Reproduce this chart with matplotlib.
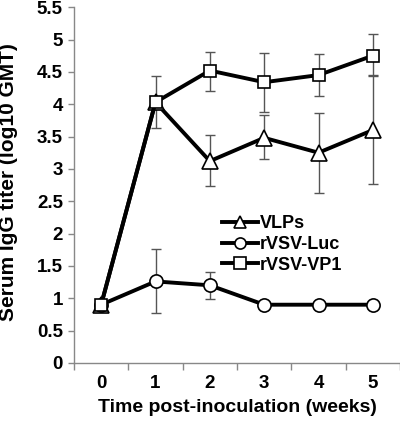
import matplotlib
matplotlib.use("Agg")
import matplotlib.pyplot as plt
import numpy as np

plt.rcParams['font.family'] = ['Liberation Sans', 'DejaVu Sans']
plt.rcParams['font.weight'] = 'bold'

weeks = [0, 1, 2, 3, 4, 5]
vlps = [0.9, 4.03, 3.12, 3.48, 3.25, 3.60]
vlps_lo = [0.9, 3.63, 2.73, 3.15, 2.63, 2.76]
vlps_hi = [0.9, 4.43, 3.53, 3.84, 3.87, 4.45]
luc = [0.9, 1.26, 1.20, 0.9, 0.9, 0.9]
luc_lo = [0.9, 0.77, 0.99, 0.9, 0.9, 0.9]
luc_hi = [0.9, 1.76, 1.41, 0.9, 0.9, 0.9]
vp1 = [0.9, 4.03, 4.52, 4.34, 4.45, 4.75]
vp1_lo = [0.9, 4.03, 4.21, 3.88, 4.13, 4.43]
vp1_hi = [0.9, 4.03, 4.81, 4.79, 4.78, 5.08]

fig = plt.figure(figsize=(4.0, 4.22), dpi=100)
ax = fig.add_axes([0.185, 0.14, 0.815, 0.843])

series = [
    ("VLPs", vlps, vlps_lo, vlps_hi, '^', 11),
    ("rVSV-Luc", luc, luc_lo, luc_hi, 'o', 9.5),
    ("rVSV-VP1", vp1, vp1_lo, vp1_hi, 's', 9),
]
x = np.array(weeks)
for name, v, lo, hi, m, ms in series:
    v = np.array(v); lo = np.array(lo); hi = np.array(hi)
    yerr = np.vstack([v - lo, hi - v])
    mask = (yerr.sum(axis=0) > 0)
    ax.errorbar(x[mask], v[mask], yerr=yerr[:, mask], fmt='none', ecolor='#555555',
                elinewidth=1.0, capsize=3.5, capthick=1.0, zorder=2)
for name, v, lo, hi, m, ms in series:
    ax.plot(x, v, color='black', lw=2.8, marker=m, ms=ms, mfc='white', mec='black',
            mew=1.2, label=name, zorder=3)

ax.set_xlim(-0.5, 5.5)
ax.set_ylim(0, 5.5)
ax.set_yticks(np.arange(0, 5.51, 0.5))
ax.set_yticklabels(['0', '0.5', '1', '1.5', '2', '2.5', '3', '3.5', '4', '4.5', '5', '5.5'])
ax.set_xticks(weeks)
ax.set_xticks(np.arange(-0.5, 5.6, 1), minor=True)
ax.tick_params(axis='x', which='major', length=0, pad=9, labelsize=13.5)
ax.tick_params(axis='x', which='minor', length=5, color='#888888', width=1)
ax.tick_params(axis='y', length=4, color='#888888', width=1, labelsize=13.5, pad=4)
for lbl in ax.get_xticklabels() + ax.get_yticklabels():
    lbl.set_fontweight('bold')
for s in ['top', 'right']:
    ax.spines[s].set_visible(False)
for s in ['left', 'bottom']:
    ax.spines[s].set_color('#888888')
    ax.spines[s].set_linewidth(1)

ax.set_xlabel('Time post-inoculation (weeks)', fontsize=14, fontweight='bold', labelpad=5)
fig.text(9 / 400, 1 - 182 / 422, 'Serum IgG titer (log10 GMT)', rotation=90,
         ha='center', va='center', fontsize=15, fontweight='bold')

leg = ax.legend(loc='upper left', bbox_to_anchor=(0.432, 0.435), frameon=False,
                prop={'weight': 'bold', 'size': 13}, handlelength=2.0,
                handletextpad=0.1, labelspacing=0.2, borderaxespad=0)
for h in leg.legend_handles:
    h.set_markersize(8)

fig.savefig('out.png', dpi=100)
